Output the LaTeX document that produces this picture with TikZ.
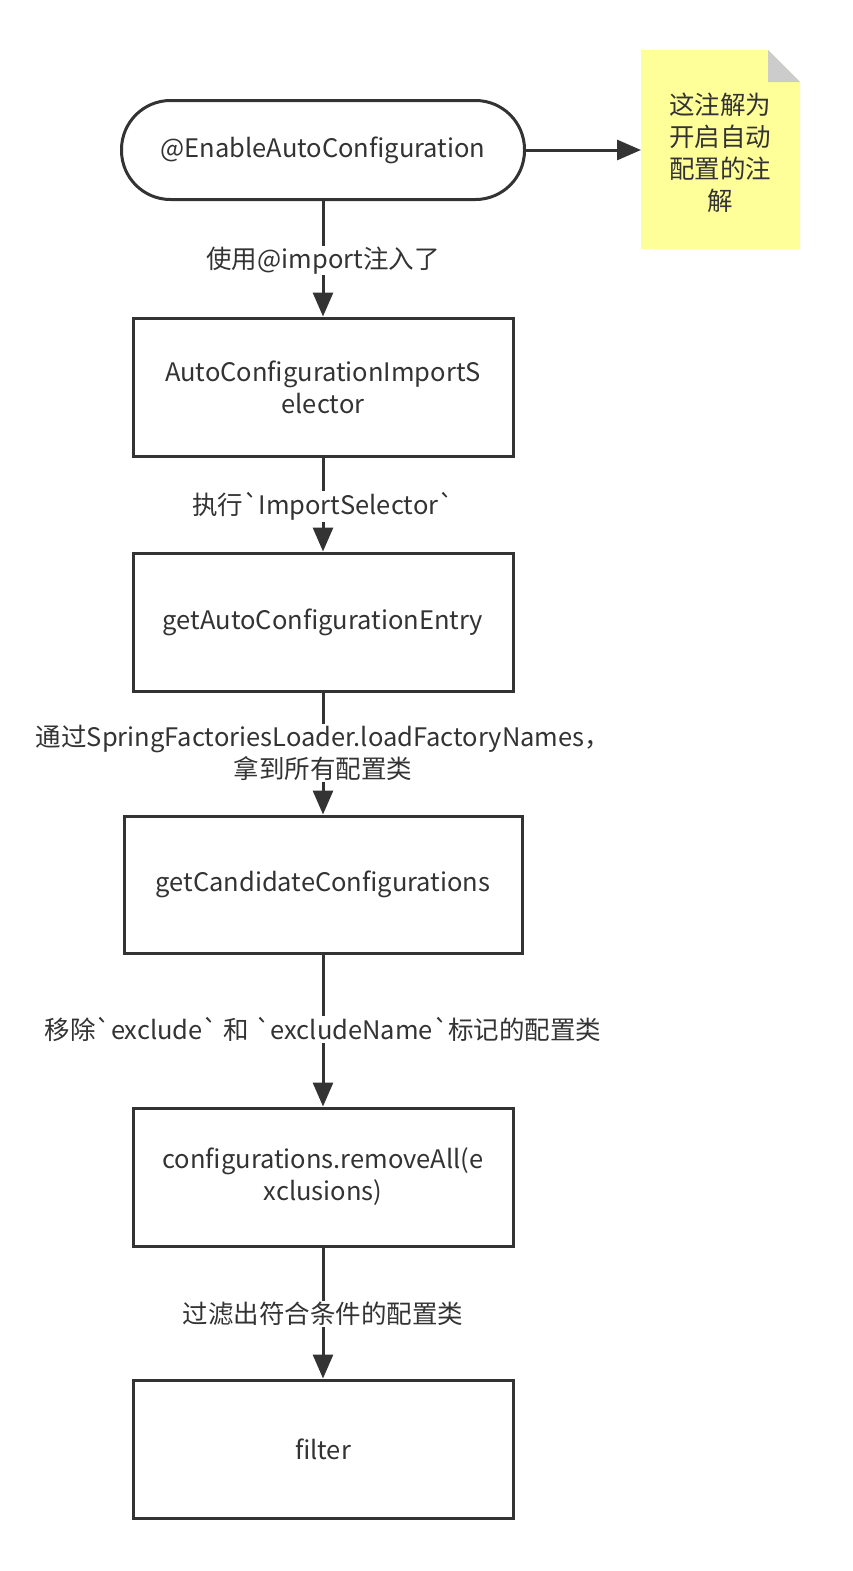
\documentclass[tikz,border=0pt]{standalone}
\usepackage{fontspec}
\setmainfont{Noto Sans CJK SC}[Ligatures=TeXOff]
\usetikzlibrary{arrows.meta}
\definecolor{ink}{HTML}{333333}
\definecolor{notey}{HTML}{FFFF99}
\definecolor{foldg}{HTML}{CCCCCC}
\begin{document}
\begin{tikzpicture}[x=1pt,y=-1pt,
    box/.style={draw=ink, line width=3pt, minimum width=380pt, minimum height=138pt, align=center, text=ink, font=\fontsize{25.5}{32}\selectfont},
    lbl/.style={fill=white, align=center, text=ink, inner sep=1pt, font=\fontsize{25.5}{32}\selectfont},
    flow/.style={draw=ink, line width=3pt, -{Triangle[length=24pt,width=20pt]}}]
    \useasboundingbox (0,0) rectangle (852,1571);

    \node[box, rounded corners=49pt, minimum width=403pt, minimum height=99pt] (enable) at (323,150) {@EnableAutoConfiguration};
    \node[box] (selector) at (323,387) {AutoConfigurationImportS\\elector};
    \node[box] (entry) at (323,622) {getAutoConfigurationEntry};
    \node[box, minimum width=398pt, minimum height=137pt] (candidate) at (323,884.5) {getCandidateConfigurations};
    \node[box] (remove) at (323,1177) {configurations.removeAll(e\\xclusions)};
    \node[box] (filter) at (323,1449) {filter};

    \fill[notey] (641,50) -- (768,50) -- (800,82) -- (800,249) -- (641,249) -- cycle;
    \fill[foldg] (768,50) -- (800,82) -- (768,82) -- cycle;
    \node[align=center, text=ink, font=\fontsize{25.5}{32}\selectfont] (note) at (720,153) {这注解为\\开启自动\\配置的注\\解};
    \coordinate (noteL) at (641,150);

    \draw[flow] (enable) -- (noteL);
    \draw[flow] (enable) -- node[lbl, yshift=-2pt] {使用@import注入了} (selector);
    \draw[flow] (selector) -- node[lbl, yshift=-2pt] {执行`ImportSelector`} (entry);
    \draw[flow] (entry) -- node[lbl, pos=0.48, yshift=-2pt] {通过SpringFactoriesLoader.loadFactoryNames，\\拿到所有配置类} (candidate);
    \draw[flow] (candidate) -- node[lbl, pos=0.48, yshift=-2pt] {移除`exclude` 和 `excludeName`标记的配置类} (remove);
    \draw[flow] (remove) -- node[lbl, pos=0.49, yshift=-2pt] {过滤出符合条件的配置类} (filter);
\end{tikzpicture}
\end{document}
